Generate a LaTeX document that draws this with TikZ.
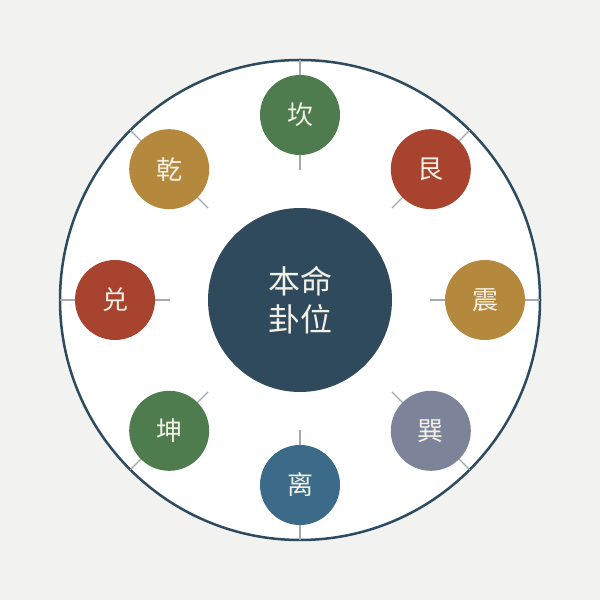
\documentclass[tikz,border=0pt]{standalone}
\usepackage{fontspec}
\usetikzlibrary{calc}
\newfontfamily\cjk{Noto Sans CJK SC}
\definecolor{bg}{HTML}{F2F3F1}
\definecolor{ring}{HTML}{2D4A5F}
\definecolor{core}{HTML}{2E4A5C}
\definecolor{tick}{HTML}{A3A9AD}
\definecolor{cgreen}{HTML}{4E7C4F}
\definecolor{cgold}{HTML}{B5893D}
\definecolor{cred}{HTML}{A8432F}
\definecolor{cgray}{HTML}{7D8499}
\definecolor{cblue}{HTML}{3B6B89}
\definecolor{txt}{HTML}{F3F0E6}
\tikzset{
  gua/.style={circle, minimum size=80pt, inner sep=0pt, text=txt, font=\cjk\fontsize{26}{26}\selectfont},
  tickline/.style={draw=tick, line width=1.2pt}
}
\begin{document}
\begin{tikzpicture}[x=1pt,y=1pt]
\fill[bg] (0,0) rectangle (600,600);
\useasboundingbox (0,0) rectangle (600,600);
\coordinate (c) at (300,300);
\node[circle, minimum size=480pt, inner sep=0pt, fill=white, draw=ring, line width=2.5pt] (outer) at (c) {};
\foreach \a in {0,45,...,315}{
  \coordinate (ti\a) at ($(c)+(\a:130)$);
  \coordinate (to\a) at ($(c)+(\a:240)$);
  \draw[tickline] (ti\a) -- (to\a);
}
\node[circle, minimum size=184pt, inner sep=0pt, fill=core, text=txt, align=center, font=\cjk\fontsize{32}{38}\selectfont] (center) at (c) {本命\\卦位};
\node[gua, fill=cgreen] (kan) at ($(c)+(90:185)$) {坎};
\node[gua, fill=cred] (gen) at ($(c)+(45:185)$) {艮};
\node[gua, fill=cgold] (zhen) at ($(c)+(0:185)$) {震};
\node[gua, fill=cgray] (xun) at ($(c)+(-45:185)$) {巽};
\node[gua, fill=cblue] (li) at ($(c)+(-90:185)$) {离};
\node[gua, fill=cgreen] (kun) at ($(c)+(-135:185)$) {坤};
\node[gua, fill=cred] (dui) at ($(c)+(180:185)$) {兑};
\node[gua, fill=cgold] (qian) at ($(c)+(135:185)$) {乾};
\end{tikzpicture}
\end{document}
